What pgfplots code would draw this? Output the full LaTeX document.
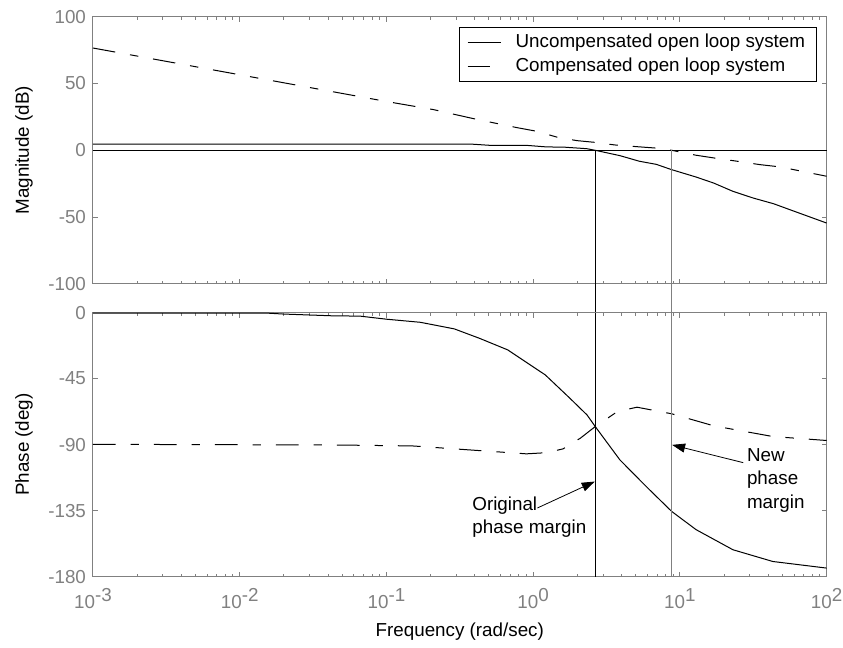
\documentclass[border=0pt]{standalone}
\usepackage{fontspec}
\setmainfont{Liberation Sans}
\usepackage{pgfplots}
\usepackage{pgfplotstable}
\pgfplotsset{compat=1.18}
\usetikzlibrary{arrows.meta}

\definecolor{axgray}{RGB}{128,128,128}
\newcommand{\chartfont}{\fontsize{9.4}{11.7}\selectfont}
\newcommand{\dec}[1]{10\raisebox{3.5pt}{#1}}

% Bode data: frequency (rad/sec) against magnitude (dB) and phase (deg)
\pgfplotstableread{
w      mag
0.001  4.7
0.37   4.7
0.51   3.7
0.9    3.7
1.24   2.5
1.6    2.4
2.32   1.2
2.65   0.0
3.9   -4.0
5.3   -8.2
6.9  -10.5
8.8  -14.5
12.9 -20.0
17   -24.5
23   -30.7
31.6 -35.7
43.6 -40.0
63   -46.4
100  -54.4
}\uncompmag
\pgfplotstableread{
w      mag
0.001  76.5
0.01   56.5
0.1    36.5
0.21   30.4
0.29   26.9
0.41   23.2
0.78   16.9
1.06   14.2
1.5    9.4
2.0    7.2
2.6    6.0
3.6    4.0
5.1    2.7
7.2    1.5
8.8    0.0
12.9  -3.7
17    -5.7
25    -8.3
35   -10.7
48   -12.4
100  -19.4
}\compmag
\pgfplotstableread{
w      ph
0.001  -0.3
0.015  -0.3
0.02   -1.0
0.043  -2.2
0.066  -2.4
0.1    -4.5
0.17   -6.6
0.29  -11.1
0.43  -17.5
0.67  -25.4
1.21  -42.5
1.78  -58.4
2.33  -69.8
2.65  -77.7
3.9  -100.4
5.9  -118.6
8.8  -135.6
12.9 -148.0
23   -161.7
43   -169.7
100  -174.2
}\uncompph
\pgfplotstableread{
w      ph
0.001 -89.8
0.048 -90.3
0.15  -90.9
0.32  -93.2
0.9   -96.3
1.24  -95.5
1.6   -92.9
2.1   -85.6
2.65  -77.7
3.75  -67.5
5.1   -64.5
8.8   -69.0
17    -77.2
43    -84.5
100   -87.2
}\compph

\begin{document}
\begin{tikzpicture}[x=1pt,y=1pt]
\useasboundingbox (0,0) rectangle (421.5,324);

% Magnitude
\begin{axis}[
  xmode=log, xmin=1e-3, xmax=1e2,
  scale only axis, width=366.8pt, height=133.7pt,
  at={(46.5pt,182pt)}, anchor=south west,
  axis line style={axgray, line width=0.5pt},
  every tick/.style={axgray, line width=0.5pt},
  major tick length=2.5pt, minor tick length=1.5pt,
  tick align=inside,
  xtick={0.001,0.01,0.1,1,10,100},
  minor xtick={0.002,0.003,0.004,0.005,0.006,0.007,0.008,0.009,0.02,0.03,0.04,0.05,0.06,0.07,0.08,0.09,0.2,0.3,0.4,0.5,0.6,0.7,0.8,0.9,2,3,4,5,6,7,8,9,20,30,40,50,60,70,80,90},
  xticklabels={},
  ymin=-100, ymax=100, ytick={-100,-50,0,50,100},
  ticklabel style={text=axgray, font=\chartfont},
  /pgf/number format/assume math mode=true,
  ylabel={Magnitude (dB)},
  ylabel style={font=\chartfont, text=black, at={(axis description cs:-0.0941,0.5)},
    anchor=center},
  clip=false,
  legend cell align=left,
  legend style={at={(rel axis cs:0.9864,0.9615)}, anchor=north east,
    draw=black, line width=0.5pt, fill=white, font=\chartfont,
    inner xsep=4pt, inner ysep=1.8pt, row sep=0.6pt, column sep=5.5pt,
    nodes={inner sep=1.5pt}},
  legend image code/.code={\draw[#1] (0pt,0pt) -- (16.7pt,0pt);},
]
\addplot[black, line width=0.5pt] table[x=w, y=mag] {\uncompmag};
\addlegendentry{Uncompensated open loop system}
\addplot[black, line width=0.5pt, dash pattern=on 11.3pt off 7.5pt on 4.2pt off 7.5pt]
  table[x=w, y=mag] {\compmag};
\addlegendentry{Compensated open loop system}
\addplot[black, line width=0.5pt, forget plot] coordinates {(0.001,0) (100,0)};
\addplot[black, line width=0.5pt, forget plot] coordinates {(2.65,0) (2.65,-121.5)};
\addplot[axgray, line width=0.7pt, forget plot] coordinates {(8.8,0) (8.8,-121.5)};
\end{axis}

% Phase
\begin{axis}[
  xmode=log, xmin=1e-3, xmax=1e2,
  scale only axis, width=366.8pt, height=132pt,
  at={(46.5pt,35.7pt)}, anchor=south west,
  axis line style={axgray, line width=0.5pt},
  every tick/.style={axgray, line width=0.5pt},
  major tick length=2.5pt, minor tick length=1.5pt,
  tick align=inside,
  xtick={0.001,0.01,0.1,1,10,100},
  minor xtick={0.002,0.003,0.004,0.005,0.006,0.007,0.008,0.009,0.02,0.03,0.04,0.05,0.06,0.07,0.08,0.09,0.2,0.3,0.4,0.5,0.6,0.7,0.8,0.9,2,3,4,5,6,7,8,9,20,30,40,50,60,70,80,90},
  xticklabels={\dec{-3},\dec{-2},\dec{-1},\dec{0},\dec{1},\dec{2}},
  xticklabel style={yshift=-2.3pt},
  ymin=-180, ymax=0, ytick={-180,-135,-90,-45,0},
  ticklabel style={text=axgray, font=\chartfont},
  /pgf/number format/assume math mode=true,
  xlabel={Frequency (rad/sec)},
  xlabel style={font=\chartfont, text=black, at={(axis description cs:0.5,0)},
    anchor=center, yshift=-27.7pt},
  ylabel={Phase (deg)},
  ylabel style={font=\chartfont, text=black, at={(axis description cs:-0.0941,0.5)},
    anchor=center},
  clip=false,
]
\addplot[black, line width=0.5pt] table[x=w, y=ph] {\uncompph};
\addplot[black, line width=0.5pt, dash pattern=on 11.3pt off 7.5pt on 4.2pt off 7.5pt]
  table[x=w, y=ph] {\compph};
\addplot[black, line width=0.5pt] coordinates {(2.65,0) (2.65,-180)};
\addplot[axgray, line width=0.7pt] coordinates {(8.8,0) (8.8,-180)};

\node[align=left, anchor=north west, inner sep=0pt, font=\chartfont]
  at (axis cs:0.383,-125.4) {Original\\phase margin};
\draw[black, line width=0.4pt, -{Triangle[length=6.5pt, width=4.5pt]}]
  (axis cs:1.07,-133.2) -- (axis cs:2.63,-115.2);
\node[align=left, anchor=north west, inner sep=0pt, font=\chartfont]
  at (axis cs:28.5,-92.5) {New\\phase\\margin};
\draw[black, line width=0.4pt, -{Triangle[length=6.5pt, width=4.5pt]}]
  (axis cs:27.0,-102.3) -- (axis cs:8.85,-90.2);
\end{axis}
\end{tikzpicture}
\end{document}
